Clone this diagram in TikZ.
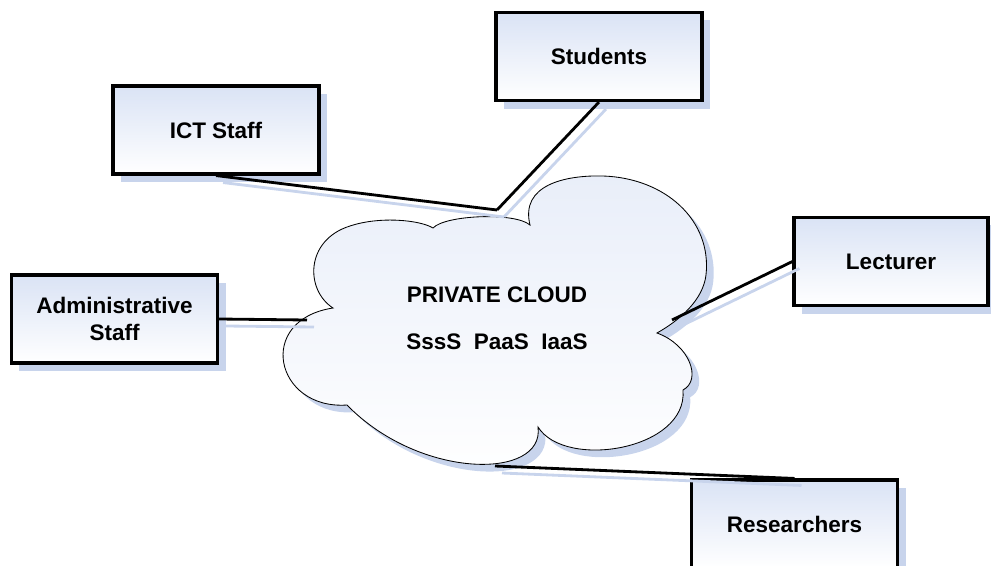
\documentclass[tikz,border=0pt]{standalone}
\usepackage{fontspec}
\setmainfont{Liberation Sans}
\usetikzlibrary{shadows}

\definecolor{shadowblue}{RGB}{200,212,236}
\definecolor{boxblue}{RGB}{218,227,245}

\tikzset{
	box/.style={rectangle, draw, line width=2.2pt, minimum width=5.15cm, minimum height=2.2cm,
		top color=boxblue, bottom color=white, align=center,
		font=\fontsize{16}{19}\selectfont\bfseries,
		drop shadow={shadow xshift=0.2cm, shadow yshift=-0.2cm, fill=shadowblue, opacity=1}},
	link/.style={line width=2pt},
	link shadow/.style={line width=2pt, draw=shadowblue},
}

\begin{document}
\begin{tikzpicture}[x=0.025cm, y=-0.025cm, every node/.style={font=\fontsize{16}{19}\selectfont\bfseries}]
	
	\useasboundingbox (0,0) rectangle (991,565);
	
	% the cloud
	\draw[line width=0.6pt, top color=boxblue!60, bottom color=white,
		drop shadow={shadow xshift=0.18cm, shadow yshift=-0.18cm, fill=shadowblue, opacity=1}]
		(530,225) .. controls (520,185) and (565,175) .. (603,176)
		.. controls (665,178) and (712,220) .. (706,275)
		.. controls (703,300) and (680,320) .. (657,333)
		.. controls (690,345) and (702,380) .. (683,390)
		.. controls (688,450) and (565,470) .. (538,427)
		.. controls (545,480) and (420,480) .. (347,405)
		.. controls (275,410) and (255,320) .. (333,308)
		.. controls (305,290) and (305,240) .. (350,226)
		.. controls (380,216) and (420,220) .. (433,228)
		.. controls (445,215) and (515,212) .. (530,225) -- cycle;
	\coordinate (cloud top) at (497,210);
	\coordinate (cloud west) at (307,320);
	\coordinate (cloud east) at (672,320);
	\coordinate (cloud south) at (495,466);
	\node (node 6) at (497,295) {PRIVATE CLOUD};
	\node (node 7) at (497,342) {SssS~~PaaS~~IaaS};
	
	\begin{scope}[every node/.style={box}]
	\node (node 1) at (216,130) {ICT Staff};
	\node (node 2) at (599,56.5) {Students};
	\node (node 3) at (114.5,319) {Administrative\\Staff};
	\node[minimum width=4.85cm] (node 4) at (891,261.5) {Lecturer};
	\node (node 5) at (794.5,524) {Researchers};
	\end{scope}
	
	% shadows of the links
	\begin{scope}[transform canvas={shift={(7,7)}}]
	\draw[link shadow] (node 1.south) -- (cloud top);
	\draw[link shadow] (node 2.south) -- (cloud top);
	\draw[link shadow] (node 3.east) -- (cloud west);
	\draw[link shadow] (node 4.west) -- (cloud east);
	\draw[link shadow] (cloud south) -- (node 5.north);
	\end{scope}
	
	\begin{scope}[link]
	\draw (node 1.south) -- (cloud top);
	\draw (node 2.south) -- (cloud top);
	\draw (node 3.east) -- (cloud west);
	\draw (node 4.west) -- (cloud east);
	\draw (cloud south) -- (node 5.north);
	\end{scope}
	
\end{tikzpicture}
\end{document}
